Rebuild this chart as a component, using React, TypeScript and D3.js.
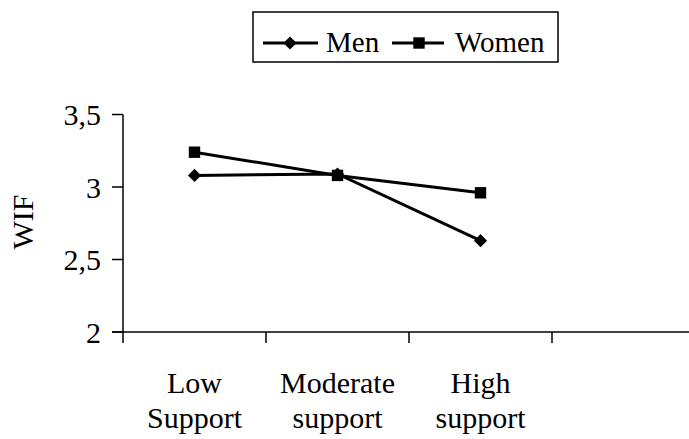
import React from "react";
import * as d3 from "d3";

const categories = ["Low|Support", "Moderate|support", "High|support", ""];
const menValues = [3.08, 3.09, 2.63];
const womenValues = [3.24, 3.08, 2.96];
const yTicks = [2, 2.5, 3, 3.5];
const yTickLabels = ["2", "2,5", "3", "3,5"];
const seriesNames = ["Men", "Women"];

const W = 689;
const H = 439;
const FONT = "Liberation Serif";
const FS = 30;

export default function App() {
  const x = d3.scaleBand<string>().domain(categories.map((c, i) => String(i))).range([123, 695]).padding(0);
  const y = d3.scaleLinear().domain([2, 3.5]).range([332, 114.5]);
  const cx = (i: number) => (x(String(i)) as number) + x.bandwidth() / 2;
  const line = d3
    .line<number>()
    .x((_, i) => cx(i))
    .y((v) => y(v));
  const diamond = d3.symbol().type(d3.symbolDiamond2).size(110)();
  const square = d3.symbol().type(d3.symbolSquare).size(130)();
  const bandTicks = categories.map((_, i) => x(String(i)) as number);
  const ts = { fontFamily: FONT, fontSize: FS };

  return (
    <svg width={W} height={H} style={{ position: "absolute", left: 0, top: 0, background: "#fff" }}>
      {/* Legend */}
      <g>
        <rect x={253} y={12} width={305} height={50} fill="#fff" stroke="#000" strokeWidth={1.5} />
        <line x1={263} x2={318} y1={43} y2={43} stroke="#000" strokeWidth={3} />
        <path d={diamond} transform="translate(290,43)" fill="#000" />
        <text x={326} y={52} style={{ ...ts, fontSize: 29 }}>{seriesNames[0]}</text>
        <line x1={392} x2={444} y1={43} y2={43} stroke="#000" strokeWidth={3} />
        <path d={square} transform="translate(419,43)" fill="#000" />
        <text x={455} y={52} style={{ ...ts, fontSize: 29 }}>{seriesNames[1]}</text>
      </g>
      {/* Y axis */}
      <line x1={123} x2={123} y1={y(3.5)} y2={y(2) + 1} stroke="#000" strokeWidth={1.5} />
      {yTicks.map((t, i) => (
        <g key={t}>
          <line x1={112} x2={123} y1={y(t)} y2={y(t)} stroke="#000" strokeWidth={1.5} />
          <text x={101} y={y(t)} dy="0.35em" textAnchor="end" style={ts}>{yTickLabels[i]}</text>
        </g>
      ))}
      <text transform={`translate(33,222) rotate(-90)`} textAnchor="middle" style={ts}>WIF</text>
      {/* X axis */}
      <line x1={112} x2={689} y1={y(2)} y2={y(2)} stroke="#000" strokeWidth={1.5} />
      {bandTicks.map((t, i) => (
        <line key={i} x1={t} x2={t} y1={y(2)} y2={y(2) + 11} stroke="#000" strokeWidth={1.5} />
      ))}
      {categories.map((c, i) =>
        c ? (
          <text key={i} x={cx(i)} y={393} textAnchor="middle" style={ts}>
            <tspan x={cx(i)} dy={0}>{c.split("|")[0]}</tspan>
            <tspan x={cx(i)} dy={35}>{c.split("|")[1]}</tspan>
          </text>
        ) : null
      )}
      {/* Series */}
      <path d={line(womenValues) || ""} fill="none" stroke="#000" strokeWidth={3} />
      <path d={line(menValues) || ""} fill="none" stroke="#000" strokeWidth={3} />
      {womenValues.map((v, i) => (
        <path key={"w" + i} d={square} transform={`translate(${cx(i)},${y(v)})`} fill="#000" />
      ))}
      {menValues.map((v, i) => (
        <path key={"m" + i} d={diamond} transform={`translate(${cx(i)},${y(v)})`} fill="#000" />
      ))}
    </svg>
  );
}
